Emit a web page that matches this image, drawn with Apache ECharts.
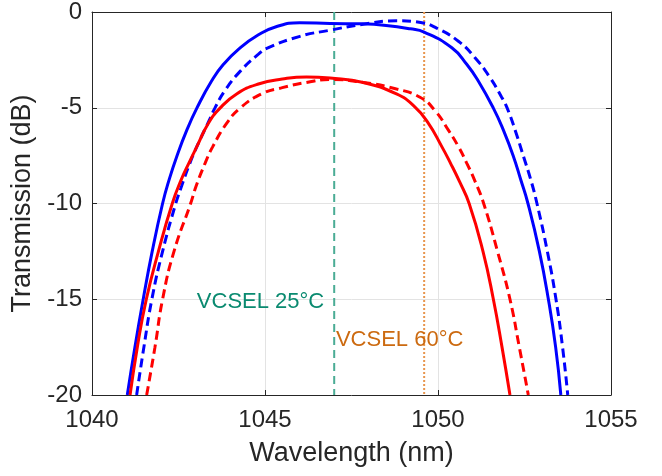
<!DOCTYPE html>
<html>
<head>
<meta charset="utf-8">
<script src="https://cdn.jsdelivr.net/npm/echarts@6/dist/echarts.min.js"></script>
<style>html,body{margin:0;padding:0;background:#fff;}#c{width:662px;height:476px;}</style>
</head>
<body>
<div id="c"></div>
<script>
// ---- data ----
var xTicks = [1040, 1045, 1050, 1055];
var yTicks = [-20, -15, -10, -5, 0];

var blueSolid = [[1041.02,-20],[1041.24,-17.5],[1041.48,-15],[1041.74,-12.5],[1042.04,-10],[1042.23,-8.75],[1042.45,-7.54],[1042.74,-6.17],[1043.03,-5.02],[1043.46,-3.59],[1043.8,-2.73],[1044.28,-1.87],[1044.81,-1.19],[1045.3,-0.78],[1046.0,-0.56],[1046.88,-0.6],[1047.8,-0.62],[1048.5,-0.7],[1049.2,-0.88],[1049.6,-1.05],[1050.4,-1.87],[1050.83,-2.73],[1051.16,-3.59],[1051.6,-5.02],[1051.89,-6.17],[1052.18,-7.54],[1052.39,-8.75],[1052.6,-10],[1052.93,-12.5],[1053.19,-15],[1053.4,-17.5],[1053.55,-20]];

var blueDashed = [[1041.29,-20],[1041.5,-17.5],[1041.73,-15],[1042.04,-12.5],[1042.42,-10],[1042.59,-9.09],[1042.83,-7.89],[1043.03,-7.03],[1043.39,-5.65],[1043.55,-5.02],[1043.84,-4.11],[1044.28,-3.1],[1044.81,-2.2],[1045.05,-1.9],[1046.01,-1.27],[1046.88,-0.95],[1047.84,-0.64],[1048.8,-0.46],[1049.5,-0.55],[1049.96,-0.84],[1050.59,-1.53],[1051.07,-2.39],[1051.5,-3.42],[1051.84,-4.45],[1052.0,-5.02],[1052.23,-6.17],[1052.47,-7.54],[1052.68,-8.75],[1052.86,-10],[1053.16,-12.5],[1053.41,-15],[1053.6,-17.5],[1053.75,-20]];

var redSolid = [[1041.1,-20],[1041.31,-17.5],[1041.57,-15],[1041.92,-12.5],[1042.32,-10],[1042.58,-8.75],[1042.8,-7.89],[1043.03,-7.03],[1043.36,-5.82],[1043.7,-5.02],[1044.18,-4.28],[1044.81,-3.76],[1045.5,-3.5],[1046.2,-3.39],[1046.88,-3.45],[1047.84,-3.68],[1048.8,-4.28],[1049.3,-4.9],[1049.7,-5.75],[1050.11,-7.03],[1050.36,-7.89],[1050.62,-8.85],[1050.9,-10],[1051.3,-12.5],[1051.6,-15],[1051.85,-17.5],[1052.08,-20]];

var redDashed = [[1041.58,-20],[1041.82,-17.5],[1042.04,-15],[1042.37,-12.5],[1042.85,-10],[1043.01,-9.09],[1043.27,-7.89],[1043.49,-7.03],[1043.89,-5.82],[1044.28,-5.02],[1044.9,-4.28],[1045.5,-3.95],[1046.2,-3.68],[1046.88,-3.52],[1047.84,-3.68],[1048.8,-4.02],[1049.48,-4.45],[1049.91,-5.14],[1050.3,-6.17],[1050.59,-7.03],[1050.83,-7.89],[1051.05,-8.75],[1051.32,-10],[1051.72,-12.5],[1052.08,-15],[1052.35,-17.5],[1052.61,-20]];

var vcsel25 = 1047.0;
var vcsel60 = 1049.6;
var labelTexts = ['VCSEL 25°C', 'VCSEL 60°C'];
var labelPos = [[1043.03, -15.15], [1047.05, -17.15]];

// ---- chart ----
var FONT = 'Arial, "Liberation Sans", sans-serif';
var TXT = '#262626';
var chart = echarts.init(document.getElementById('c'), null, {renderer: 'canvas'});

function curve(data, color, dashed) {
  return {
    type: 'line', data: data, showSymbol: false, symbol: 'none',
    smooth: 0.5, clip: true, z: 5,
    lineStyle: {color: color, width: 3, type: dashed ? [9, 5] : 'solid'}
  };
}

var labelColors = ['#0a8a70', '#cc6a10'];

chart.setOption({
  animation: false,
  grid: {left: 92, top: 7, right: 51, bottom: 81},
  xAxis: [{
    type: 'value', min: 1040, max: 1055, interval: 5,
    name: 'Wavelength (nm)', nameLocation: 'middle', nameGap: 45,
    nameTextStyle: {fontFamily: FONT, fontSize: 27, color: TXT},
    axisLine: {show: true, onZero: false, lineStyle: {color: TXT, width: 1}},
    axisTick: {show: true, inside: true, length: 5, lineStyle: {color: TXT}},
    axisLabel: {fontFamily: FONT, fontSize: 24, color: TXT, margin: 13,
                formatter: function (v) { return String(v); }},
    splitLine: {show: true, lineStyle: {color: '#e3e3e3', width: 1}}
  }, {
    type: 'value', position: 'top', min: 1040, max: 1055, interval: 5,
    axisLine: {show: true, onZero: false, lineStyle: {color: TXT, width: 1}},
    axisTick: {show: true, inside: true, length: 5, lineStyle: {color: TXT}},
    axisLabel: {show: false}, splitLine: {show: false}
  }],
  yAxis: [{
    type: 'value', min: -20, max: 0, interval: 5,
    name: 'Transmission (dB)', nameLocation: 'middle', nameGap: 50, nameRotate: 90,
    nameTextStyle: {fontFamily: FONT, fontSize: 27, color: TXT},
    axisLine: {show: true, onZero: false, lineStyle: {color: TXT, width: 1}},
    axisTick: {show: true, inside: true, length: 5, lineStyle: {color: TXT}},
    axisLabel: {fontFamily: FONT, fontSize: 24, color: TXT, margin: 10,
                formatter: function (v) { return String(v); }},
    splitLine: {show: true, lineStyle: {color: '#e3e3e3', width: 1}}
  }, {
    type: 'value', position: 'right', min: -20, max: 0, interval: 5,
    axisLine: {show: true, onZero: false, lineStyle: {color: TXT, width: 1}},
    axisTick: {show: true, inside: true, length: 5, lineStyle: {color: TXT}},
    axisLabel: {show: false}, splitLine: {show: false}
  }],
  series: [
    {type: 'line', data: [[vcsel25, 0], [vcsel25, -20]], symbol: 'none', z: 3,
     lineStyle: {color: '#4aac95', width: 2, type: [8, 5]}},
    {type: 'line', data: [[vcsel60, 0], [vcsel60, -20]], symbol: 'none', z: 3,
     lineStyle: {color: '#e8964e', width: 2, type: [2, 2]}},
    curve(blueSolid, '#0000ff', false),
    curve(blueDashed, '#0000ff', true),
    curve(redSolid, '#ff0000', false),
    curve(redDashed, '#ff0000', true),
    {type: 'scatter', symbolSize: 0, z: 10, itemStyle: {opacity: 1},
     data: labelPos.map(function (p, i) {
       return {value: p, itemStyle: {opacity: 1},
         label: {show: true, position: 'right', distance: 0, opacity: 1,
         formatter: labelTexts[i], color: labelColors[i], fontFamily: FONT, fontSize: 22}};
     })}
  ]
});
</script>
</body>
</html>
